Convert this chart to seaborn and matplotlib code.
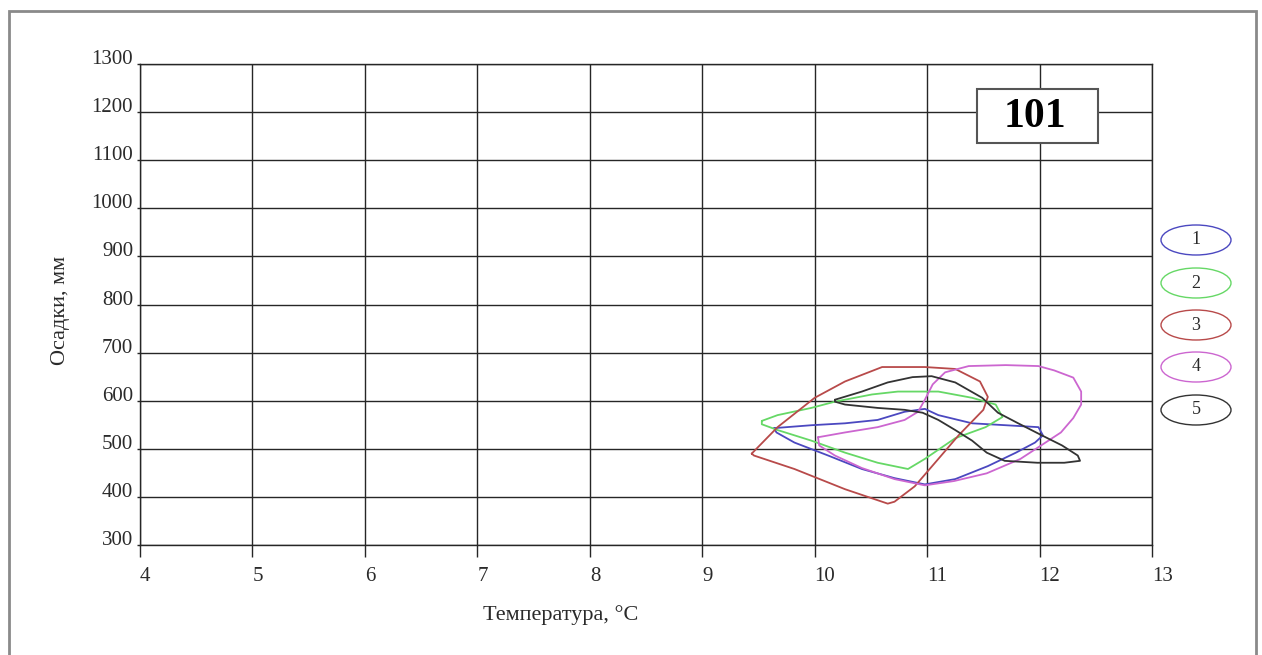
import numpy as np
import pandas as pd
import matplotlib
matplotlib.use("Agg")
import matplotlib.pyplot as plt
import seaborn as sns
from matplotlib.patches import Ellipse, Rectangle

# Climate envelopes: temperature (°C) vs precipitation (mm), one closed loop per series
t1 = [9.64, 9.97, 10.27, 10.56, 10.80, 10.98, 11.10, 11.40, 11.70, 11.99, 12.03, 11.96,
      11.79, 11.54, 11.25, 10.98, 10.71, 10.42, 10.12, 9.82, 9.66]
p1 = [543, 549, 553, 560, 577, 583, 570, 553, 549, 545, 528, 513,
      492, 464, 437, 426, 439, 458, 486, 513, 534]

t2 = [9.53, 9.67, 9.97, 10.18, 10.51, 10.74, 10.98, 11.10, 11.40, 11.61, 11.67, 11.52,
      11.25, 10.98, 10.83, 10.56, 10.27, 9.97, 9.67, 9.53]
p2 = [558, 570, 585, 598, 613, 619, 619, 619, 606, 592, 566, 545,
      522, 479, 458, 471, 492, 517, 539, 551]

t3 = [9.44, 9.67, 10.00, 10.27, 10.60, 10.98, 11.25, 11.47, 11.54, 11.50, 11.28, 11.10,
      10.89, 10.71, 10.65, 10.27, 9.82, 9.46]
p3 = [490, 545, 606, 640, 670, 670, 666, 640, 608, 581, 528, 479,
      422, 390, 386, 416, 458, 486]

t4 = [10.03, 10.27, 10.56, 10.80, 10.92, 10.98, 11.05, 11.16, 11.37, 11.70, 11.99, 12.13,
      12.30, 12.37, 12.37, 12.30, 12.19, 12.04, 11.83, 11.53, 11.24, 10.98, 10.71, 10.42,
      10.18, 10.04]
p4 = [524, 534, 545, 560, 577, 602, 634, 659, 672, 674, 672, 663,
      648, 619, 592, 564, 534, 511, 479, 449, 433, 424, 437, 460,
      486, 507]

t5 = [10.18, 10.42, 10.65, 10.87, 11.04, 11.25, 11.49, 11.63, 11.81, 12.02, 12.20, 12.34,
      12.36, 12.22, 11.98, 11.69, 11.53, 11.40, 11.25, 11.10, 10.96, 10.80, 10.56, 10.27,
      10.18]
p5 = [602, 619, 638, 649, 651, 638, 606, 575, 553, 528, 507, 486,
      475, 471, 471, 475, 492, 517, 539, 560, 575, 581, 585, 592,
      598]

series_names = ["1", "2", "3", "4", "5"]
series_colors = ["#4b48c0", "#66d866", "#b84a4a", "#cc66d0", "#333333"]

x_ticks = list(range(4, 14))
y_ticks = list(range(300, 1301, 100))
x_title = "Температура, °C"
y_title = "Осадки, мм"
panel_id = "101"

sns.set_theme(style="white")
plt.rcParams["font.family"] = ["Liberation Serif", "DejaVu Serif"]

W, H = 1262, 655
fig = plt.figure(figsize=(W / 100, H / 100), dpi=100)
fig.patch.set_facecolor("white")
ax = fig.add_axes([140 / W, 1 - 545 / H, (1152 - 140) / W, (545 - 64) / H])

frames = []
for name, t, p in zip(series_names, [t1, t2, t3, t4, t5], [p1, p2, p3, p4, p5]):
    t_closed = np.append(t, t[0])
    p_closed = np.append(p, p[0])
    frames.append(pd.DataFrame({"temp": t_closed, "precip": p_closed,
                                "series": name, "order": np.arange(len(t_closed))}))
df = pd.concat(frames, ignore_index=True)

for name, color in zip(series_names, series_colors):
    sub = df[df["series"] == name]
    sns.lineplot(data=sub, x="temp", y="precip", sort=False, estimator=None,
                 color=color, lw=1.3, ax=ax, zorder=3)

ax.set_xlim(4, 13)
ax.set_ylim(300, 1300)
ax.set_xticks(x_ticks)
ax.set_yticks(y_ticks)
ax.set_xticklabels([str(v) for v in x_ticks])
ax.set_yticklabels([str(v) for v in y_ticks])
ax.set_xlabel("")
ax.set_ylabel("")
ax.grid(True, color="#262626", lw=1.0)
ax.set_axisbelow(True)
for side in ["left", "bottom", "top", "right"]:
    ax.spines[side].set_visible(True)
    ax.spines[side].set_color("#262626")
    ax.spines[side].set_linewidth(1.0)

ax.tick_params(axis="x", direction="out", length=8.5, width=1, color="#262626",
               labelsize=15, pad=7, labelcolor="#2a2a2a", bottom=True)
ax.tick_params(axis="y", direction="out", length=2.5, width=1, color="#262626",
               labelsize=15, pad=2.5, labelcolor="#2a2a2a", left=True)
plt.setp(ax.get_yticklabels(), va="baseline")
plt.setp(ax.get_xticklabels(), ha="left")

fig.text(561 / W, 1 - 615 / H, x_title, ha="center", va="center", fontsize=16,
         color="#2a2a2a")
fig.text(60 / W, 1 - 310 / H, y_title, ha="center", va="center", rotation=90,
         fontsize=16, color="#2a2a2a")

# Panel number box
fig.add_artist(Rectangle((977 / W, 1 - 143 / H), 121 / W, 54 / H,
                         transform=fig.transFigure, facecolor="white",
                         edgecolor="#555555", lw=1.5, zorder=5))
fig.text(1035 / W, 1 - 117 / H, panel_id, ha="center", va="center",
         fontsize=30, fontweight="bold", color="black", zorder=6)

# Legend: numbered ellipses
legend_y = [240, 283, 325, 367, 410]
for name, color, yy in zip(series_names, series_colors, legend_y):
    fig.add_artist(Ellipse((1196 / 100, (H - yy) / 100), 0.70, 0.30,
                           transform=fig.dpi_scale_trans, facecolor="white",
                           edgecolor=color, lw=1.0, zorder=5))
    fig.text(1196 / W, 1 - yy / H, name, ha="center", va="center",
             fontsize=13, color="#2a2a2a", zorder=6)

# Outer frame
fig.add_artist(Rectangle((9 / W, -0.02), (1256 - 9) / W, 1.02 - 11 / H,
                         transform=fig.transFigure, facecolor="none",
                         edgecolor="#8a8a8a", lw=2.0, zorder=4))

fig.savefig("out.png", dpi=100, facecolor="white")
